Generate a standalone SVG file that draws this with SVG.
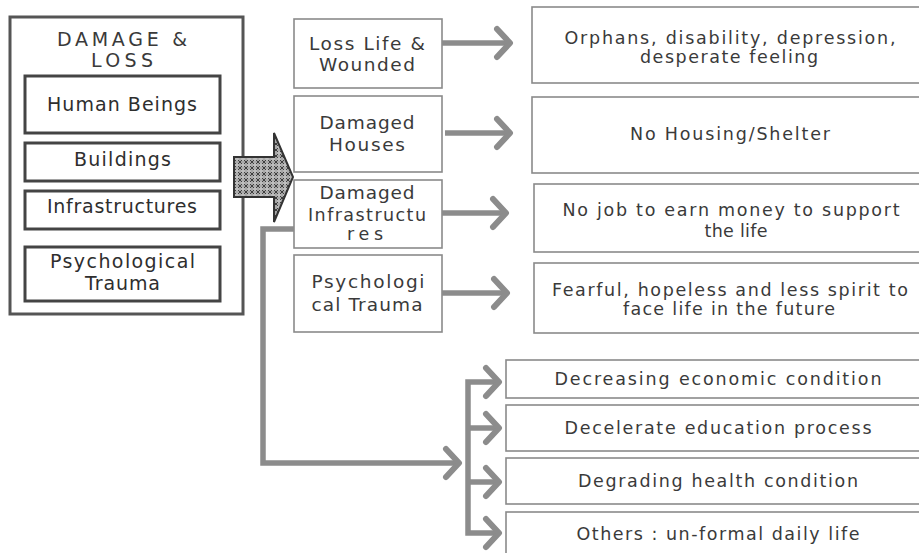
<svg xmlns="http://www.w3.org/2000/svg" width="919" height="553" viewBox="0 0 919 553">
<defs>
<style>
text{font-family:"DejaVu Sans","Liberation Sans",Arial,sans-serif;text-anchor:middle;fill:#3a3a3a}
.l{font-size:19px;fill:#2e2e2e}
.t{font-size:19px}
.m{font-size:18.5px}
.s{font-size:17.5px}
.r{font-size:17.5px}
.outer{fill:#fff;stroke:#555;stroke-width:3}
.inner{fill:#fff;stroke:#444;stroke-width:3}
.box{fill:#fff;stroke:#8a8a8a;stroke-width:1.6}
.con{fill:none;stroke:#8c8c8c;stroke-width:5.5;stroke-linejoin:miter}
</style>
<marker id="chev" viewBox="-20 -20 26 40" markerWidth="26" markerHeight="40" refX="0" refY="0" orient="auto" markerUnits="userSpaceOnUse" overflow="visible">
<path d="M-13,-14 L0,0 L-13,14" fill="none" stroke="#8c8c8c" stroke-width="6" stroke-linecap="round" stroke-linejoin="round"/>
</marker>
<pattern id="hatch" width="6" height="6" patternUnits="userSpaceOnUse">
<rect width="6" height="6" fill="#a8a8a8"/>
<path d="M0,0 L6,6 M6,0 L0,6" stroke="#333" stroke-width="0.9"/>
<path d="M3,1.5 V4.5 M1.5,3 H4.5" stroke="#f4f4f4" stroke-width="0.9"/>
</pattern>
</defs>

<g id="damage-loss">
<rect class="outer" x="10" y="17" width="233" height="297"/>
<text class="t" x="122" y="46" textLength="130" lengthAdjust="spacing">DAMAGE &amp;</text>
<text class="t" x="122" y="67" textLength="62" lengthAdjust="spacing">LOSS</text>
</g>
<g id="human-beings">
<rect class="inner" x="25" y="76" width="195" height="57"/>
<text class="l" x="122" y="111" textLength="150" lengthAdjust="spacing">Human Beings</text>
</g>
<g id="buildings">
<rect class="inner" x="25" y="143" width="195" height="38"/>
<text class="l" x="122.5" y="166" textLength="97" lengthAdjust="spacing">Buildings</text>
</g>
<g id="infrastructures">
<rect class="inner" x="25" y="191" width="195" height="38"/>
<text class="l" x="122" y="213" textLength="150" lengthAdjust="spacing">Infrastructures</text>
</g>
<g id="psychological-trauma">
<rect class="inner" x="25" y="247" width="195" height="54"/>
<text class="l" x="122.5" y="268" textLength="145" lengthAdjust="spacing">Psychological</text>
<text class="l" x="122.5" y="290" textLength="75" lengthAdjust="spacing">Trauma</text>
</g>

<g id="big-arrow">
<polygon points="234,157 274,157 274,133 293,177 274,222 274,197 234,197" fill="url(#hatch)" stroke="#333" stroke-width="2" stroke-linejoin="miter"/>
</g>

<g id="loss-life">
<rect class="box" x="294" y="19" width="148" height="69"/>
<text class="m" x="367" y="50" textLength="116" lengthAdjust="spacing">Loss Life &amp;</text>
<text class="m" x="367" y="71" textLength="96" lengthAdjust="spacing">Wounded</text>
</g>
<g id="damaged-houses">
<rect class="box" x="294" y="96" width="148" height="76"/>
<text class="m" x="367" y="129" textLength="95" lengthAdjust="spacing">Damaged</text>
<text class="m" x="367" y="151" textLength="76" lengthAdjust="spacing">Houses</text>
</g>
<g id="damaged-infra">
<rect class="box" x="294" y="180" width="148" height="68"/>
<text class="m" x="367" y="199" textLength="95" lengthAdjust="spacing">Damaged</text>
<text class="s" x="367" y="220.5" textLength="118" lengthAdjust="spacing">Infrastructu</text>
<text class="s" x="365" y="240" textLength="36" lengthAdjust="spacing">res</text>
</g>
<g id="psych-trauma">
<rect class="box" x="294" y="255" width="148" height="77"/>
<text class="m" x="368" y="288" textLength="113" lengthAdjust="spacing">Psychologi</text>
<text class="m" x="367" y="311" textLength="111" lengthAdjust="spacing">cal Trauma</text>
</g>

<g id="orphans">
<rect class="box" x="532" y="7" width="395" height="76"/>
<text class="r" x="730" y="44" textLength="331" lengthAdjust="spacing">Orphans, disability, depression,</text>
<text class="r" x="729" y="63" textLength="178" lengthAdjust="spacing">desperate feeling</text>
</g>
<g id="no-housing">
<rect class="box" x="532" y="97" width="395" height="76"/>
<text class="r" x="730" y="140" textLength="200" lengthAdjust="spacing">No Housing/Shelter</text>
</g>
<g id="no-job">
<rect class="box" x="534" y="184" width="393" height="68"/>
<text class="r" x="731" y="216" textLength="337" lengthAdjust="spacing">No job to earn money to support</text>
<text class="r" x="736" y="237" textLength="63" lengthAdjust="spacing">the life</text>
</g>
<g id="fearful">
<rect class="box" x="534" y="263" width="393" height="70"/>
<text class="r" x="730" y="296" textLength="356" lengthAdjust="spacing">Fearful, hopeless and less spirit to</text>
<text class="r" x="729" y="315" textLength="212" lengthAdjust="spacing">face life in the future</text>
</g>

<g id="economic">
<rect class="box" x="506" y="360" width="421" height="38"/>
<text class="r" x="718" y="385" textLength="327" lengthAdjust="spacing">Decreasing economic condition</text>
</g>
<g id="education">
<rect class="box" x="506" y="405" width="421" height="46"/>
<text class="r" x="718" y="434" textLength="307" lengthAdjust="spacing">Decelerate education process</text>
</g>
<g id="health">
<rect class="box" x="506" y="458" width="421" height="46"/>
<text class="r" x="718" y="487" textLength="280" lengthAdjust="spacing">Degrading health condition</text>
</g>
<g id="others">
<rect class="box" x="506" y="512" width="421" height="50"/>
<text class="r" x="718" y="540" textLength="283" lengthAdjust="spacing">Others : un-formal daily life</text>
</g>

<g id="connectors">
<path class="con" d="M442,43 H510" marker-end="url(#chev)"/>
<path class="con" d="M445,133 H510" marker-end="url(#chev)"/>
<path class="con" d="M442,213 H506" marker-end="url(#chev)"/>
<path class="con" d="M442,293 H507" marker-end="url(#chev)"/>
<path class="con" d="M294,229 H263 V463 H459" marker-end="url(#chev)"/>
<path class="con" d="M499,382 H468 V533 H499" marker-end="url(#chev)"/>
<path class="con" d="M468,428 H499" marker-end="url(#chev)"/>
<path class="con" d="M468,482 H499" marker-end="url(#chev)"/>
<path d="M499,382 m-13,-14 l13,14 l-13,14" fill="none" stroke="#8c8c8c" stroke-width="6" stroke-linecap="round" stroke-linejoin="round"/>
</g>
</svg>
